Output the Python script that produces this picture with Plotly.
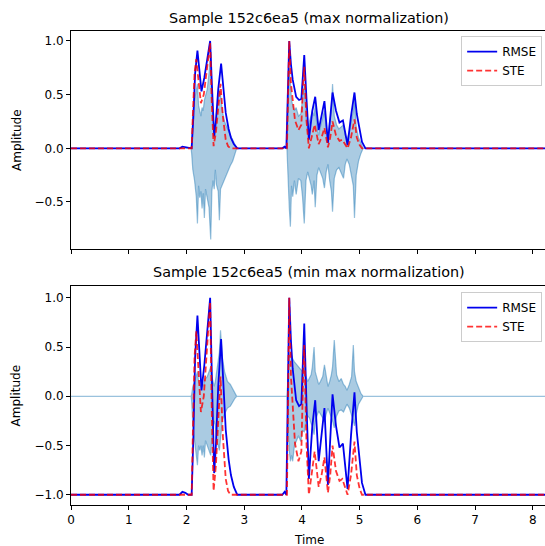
import plotly.graph_objects as go

# waveform envelope (upper / lower), seconds
wave_time = [0.00, 2.08,
             2.09, 2.11, 2.14, 2.17, 2.19, 2.21, 2.23, 2.25, 2.27, 2.29, 2.31, 2.33, 2.36, 2.39, 2.42,
             2.44, 2.46, 2.48, 2.50, 2.52, 2.55, 2.57, 2.59, 2.62, 2.66, 2.71, 2.76, 2.80, 2.84, 2.87,
             3.74, 3.76, 3.78, 3.80, 3.82, 3.84, 3.87, 3.90, 3.94, 3.98, 4.01, 4.04, 4.07, 4.10, 4.13,
             4.16, 4.18, 4.21, 4.23, 4.26, 4.29, 4.32, 4.36, 4.39, 4.42, 4.45, 4.48, 4.51, 4.53, 4.56,
             4.60, 4.64, 4.68, 4.72, 4.75, 4.78, 4.82, 4.86, 4.89, 4.91, 4.94, 4.98, 5.02, 5.06,
             8.30]
wave_max_hi = [0, 0,
               0.05, 0.3, 0.45, 0.55, 0.6, 0.4, 0.35, 0.3, 0.38, 0.35, 0.45, 0.5, 0.55, 0.7, 0.9,
               0.5, 0.3, 0.1, 0.25, 0.35, 0.45, 0.55, 0.5, 0.35, 0.25, 0.18, 0.12, 0.08, 0.04, 0,
               0, 0.4, 0.75, 0.6, 0.45, 0.4, 0.35, 0.38, 0.3, 0.32, 0.45, 0.6, 0.3, 0.15, 0.25,
               0.3, 0.35, 0.3, 0.4, 0.2, 0.12, 0.2, 0.3, 0.35, 0.2, 0.1, 0.25, 0.35, 0.6, 0.3,
               0.22, 0.18, 0.2, 0.22, 0.12, 0.08, 0.15, 0.25, 0.35, 0.45, 0.2, 0.1, 0.04, 0,
               0]
wave_max_lo = [0, 0,
               -0.05, -0.2, -0.3, -0.45, -0.70, -0.35, -0.46, -0.40, -0.56, -0.42, -0.65, -0.38, -0.48, -0.55, -0.85,
               -0.40, -0.30, -0.38, -0.20, -0.34, -0.40, -0.67, -0.38, -0.34, -0.28, -0.22, -0.16, -0.12, -0.05, 0,
               0, -0.3, -0.55, -0.73, -0.35, -0.45, -0.30, -0.43, -0.28, -0.30, -0.45, -0.70, -0.30, -0.22, -0.28,
               -0.35, -0.43, -0.30, -0.55, -0.25, -0.18, -0.22, -0.28, -0.37, -0.22, -0.15, -0.30, -0.40, -0.59, -0.28,
               -0.20, -0.18, -0.22, -0.28, -0.15, -0.10, -0.15, -0.25, -0.35, -0.65, -0.25, -0.12, -0.05, 0,
               0]
wave_mm_hi = [0, 0,
              0.02, 0.1, 0.15, 0.2, 0.25, 0.15, 0.12, 0.1, 0.12, 0.1, 0.15, 0.18, 0.2, 0.25, 0.3,
              0.2, 0.15, 0.1, 0.15, 0.25, 0.35, 0.45, 0.67, 0.4, 0.25, 0.15, 0.12, 0.08, 0.03, 0,
              0, 0.25, 0.4, 0.45, 0.4, 0.38, 0.35, 0.33, 0.3, 0.28, 0.25, 0.3, 0.2, 0.15, 0.18,
              0.22, 0.3, 0.5, 0.25, 0.18, 0.12, 0.15, 0.2, 0.32, 0.18, 0.1, 0.15, 0.22, 0.3, 0.57,
              0.22, 0.15, 0.18, 0.12, 0.1, 0.06, 0.12, 0.2, 0.52, 0.25, 0.15, 0.08, 0.03, 0,
              0]
wave_mm_lo = [0, 0,
              -0.05, -0.3, -0.45, -0.6, -0.70, -0.5, -0.55, -0.5, -0.6, -0.5, -0.62, -0.45, -0.5, -0.55, -0.6,
              -0.4, -0.3, -0.25, -0.3, -0.45, -0.5, -0.55, -0.4, -0.25, -0.18, -0.12, -0.1, -0.06, -0.02, 0,
              0, -0.3, -0.55, -0.66, -0.6, -0.66, -0.5, -0.46, -0.4, -0.46, -0.35, -0.36, -0.25, -0.2, -0.22,
              -0.28, -0.3, -0.39, -0.26, -0.2, -0.15, -0.18, -0.22, -0.26, -0.18, -0.12, -0.18, -0.22, -0.25, -0.32,
              -0.2, -0.15, -0.14, -0.16, -0.12, -0.08, -0.12, -0.2, -0.25, -0.3, -0.18, -0.08, -0.04, 0,
              0]

# RMSE curve, max normalization (top) and min-max normalization (bottom)
rmse_time = [0.00, 1.88, 1.93, 1.98, 2.03, 2.09, 2.12, 2.15, 2.19, 2.23, 2.26, 2.31, 2.36, 2.41, 2.44,
             2.48, 2.51, 2.55, 2.60, 2.64, 2.68, 2.73, 2.77, 2.82, 2.88, 3.66, 3.70, 3.73, 3.76, 3.78,
             3.81, 3.84, 3.90, 3.95, 3.99, 4.02, 4.04, 4.08, 4.12, 4.18, 4.23, 4.29, 4.34, 4.39, 4.45,
             4.49, 4.53, 4.59, 4.65, 4.71, 4.75, 4.79, 4.85, 4.91, 4.95, 5.00, 5.04, 5.10, 8.30]
rmse_max = [0, 0, 0.015, 0.01, 0, 0, 0.3, 0.7, 0.91, 0.68, 0.53, 0.66, 0.82, 1.0, 0.6,
            0.11, 0.25, 0.55, 0.79, 0.55, 0.33, 0.18, 0.10, 0.04, 0, 0, 0.015, 0, 0.6, 1.0,
            0.78, 0.64, 0.48, 0.45, 0.46, 0.75, 0.87, 0.45, 0.08, 0.35, 0.48, 0.17, 0.3, 0.44, 0.05,
            0.3, 0.52, 0.35, 0.24, 0.26, 0.15, 0.03, 0.3, 0.52, 0.32, 0.17, 0.06, 0, 0]
rmse_minmax = [-1, -1, -0.97, -0.98, -1, -1, -0.4, 0.4, 0.82, 0.36, 0.06, 0.32, 0.64, 1.0, 0.2,
               -0.78, -0.5, 0.1, 0.58, 0.1, -0.34, -0.64, -0.8, -0.92, -1, -1, -0.97, -1, 0.2, 1.0,
               0.56, 0.28, -0.04, -0.1, -0.08, 0.5, 0.74, -0.1, -0.84, -0.3, -0.04, -0.66, -0.4, -0.12, -0.9,
               -0.4, 0.02, -0.3, -0.52, -0.48, -0.7, -0.94, -0.4, 0.04, -0.36, -0.66, -0.88, -1, -1]

# STE curve
ste_time = [0.00, 2.09, 2.11, 2.14, 2.17, 2.21, 2.25, 2.30, 2.35, 2.41, 2.44, 2.47, 2.51, 2.55, 2.59,
            2.63, 2.68, 2.72, 2.76, 3.74, 3.76, 3.78, 3.81, 3.84, 3.88, 3.94, 3.99, 4.02, 4.04, 4.08,
            4.12, 4.18, 4.22, 4.29, 4.34, 4.39, 4.45, 4.49, 4.53, 4.59, 4.65, 4.70, 4.75, 4.79, 4.85,
            4.91, 4.95, 5.00, 5.04, 8.30]
ste_max = [0, 0, 0.3, 0.7, 0.83, 0.6, 0.42, 0.5, 0.7, 0.98, 0.4, 0.02, 0.15, 0.4, 0.6,
           0.3, 0.08, 0.02, 0, 0, 0.5, 1.0, 0.6, 0.45, 0.26, 0.17, 0.22, 0.6, 0.76, 0.25,
           0.0, 0.13, 0.22, 0.04, 0.1, 0.19, 0.01, 0.1, 0.25, 0.12, 0.07, 0.08, 0.03, 0.0, 0.1,
           0.27, 0.1, 0.03, 0, 0]
ste_minmax = [-1, -1, -0.4, 0.4, 0.66, 0.2, -0.16, 0.0, 0.4, 0.96, -0.2, -0.96, -0.7, -0.2, 0.2,
              -0.4, -0.84, -0.96, -1, -1, 0.0, 1.0, 0.2, -0.1, -0.48, -0.66, -0.56, 0.2, 0.52, -0.5,
              -1, -0.74, -0.56, -0.92, -0.8, -0.62, -0.98, -0.8, -0.5, -0.76, -0.86, -0.84, -0.94, -1, -0.8,
              -0.46, -0.8, -0.94, -1, -1]

x_ticks = [0, 1, 2, 3, 4, 5, 6, 7, 8]
y_ticks_top = [-0.5, 0.0, 0.5, 1.0]
y_ticks_bot = [-1.0, -0.5, 0.0, 0.5, 1.0]
titles = ["Sample 152c6ea5 (max normalization)", "Sample 152c6ea5 (min max normalization)"]

WAVE_FILL = 'rgba(31,119,180,0.38)'
WAVE_LINE = 'rgba(31,119,180,0.45)'
BLUE = '#0000ee'
RED = 'rgba(255,0,0,0.8)'
FONT = 'DejaVu Sans'
FS = 12


def fmt(v):
    return ('\u2212' if v < 0 else '') + '%.1f' % abs(v)


fig = go.Figure()

panels = [('x', 'y', 'legend', wave_max_hi, wave_max_lo, rmse_max, ste_max),
          ('x2', 'y2', 'legend2', wave_mm_hi, wave_mm_lo, rmse_minmax, ste_minmax)]
for xa, ya, lg, hi, lo, rmse, ste in panels:
    # waveform as a filled envelope
    fig.add_trace(go.Scatter(x=wave_time + wave_time[::-1], y=hi + lo[::-1],
                             fill='toself', fillcolor=WAVE_FILL, mode='lines',
                             line=dict(color=WAVE_LINE, width=1.2), showlegend=False,
                             hoverinfo='skip', xaxis=xa, yaxis=ya))
    fig.add_trace(go.Scatter(x=rmse_time, y=rmse, mode='lines', name='RMSE',
                             line=dict(color=BLUE, width=1.8), legend=lg,
                             xaxis=xa, yaxis=ya))
    fig.add_trace(go.Scatter(x=ste_time, y=ste, mode='lines', name='STE',
                             line=dict(color=RED, width=1.8, dash='6px,3px'), legend=lg,
                             xaxis=xa, yaxis=ya))

ax_common = dict(showgrid=False, zeroline=False, showline=True, linecolor='black', linewidth=1,
                 ticks='outside', ticklen=4, tickwidth=1, tickcolor='black',
                 tickfont=dict(family=FONT, size=FS, color='black'))
xr = [0, 8.21]
leg = dict(x=0.994, xanchor='right', yanchor='top', bordercolor='#cccccc', borderwidth=1,
           bgcolor='rgba(255,255,255,0.8)', font=dict(size=FS), itemwidth=30)
fig.update_layout(
    width=545, height=546,
    margin=dict(l=71, r=0, t=0, b=0),
    plot_bgcolor='white', paper_bgcolor='white',
    font=dict(family=FONT, size=FS, color='black'),
    xaxis=dict(domain=[0, 1], anchor='y', range=xr, mirror=True, tickvals=x_ticks,
               showticklabels=False, **ax_common),
    yaxis=dict(domain=[0.5440, 0.9432], anchor='x', range=[-0.938, 1.093],
               tickvals=y_ticks_top, ticktext=[fmt(v) for v in y_ticks_top], **ax_common),
    xaxis2=dict(domain=[0, 1], anchor='y2', range=xr, mirror=True, tickvals=x_ticks,
                ticktext=[str(v) for v in x_ticks], **ax_common),
    yaxis2=dict(domain=[0.0751, 0.4762], anchor='x2', range=[-1.104, 1.12],
                tickvals=y_ticks_bot, ticktext=[fmt(v) for v in y_ticks_bot], **ax_common),
    legend=dict(y=0.934, **leg),
    legend2=dict(y=0.465, **leg),
)

# subplot titles and axis labels
ann = [dict(text=titles[0], x=0.503, y=0.967, font=dict(size=14.4)),
       dict(text=titles[1], x=0.503, y=0.502, font=dict(size=14.4)),
       dict(text='Amplitude', x=-0.114, y=0.7436, textangle=-90),
       dict(text='Amplitude', x=-0.114, y=0.2757, textangle=-90),
       dict(text='Time', x=0.503, y=0.011)]
for a in ann:
    fig.add_annotation(xref='paper', yref='paper', showarrow=False,
                       xanchor='center', yanchor='middle', **a)

# page body has a default 8px margin; drop it so the figure fills the window
fig.write_html("out.html", config={'displayModeBar': False},
               post_script="document.body.style.margin='0';")
